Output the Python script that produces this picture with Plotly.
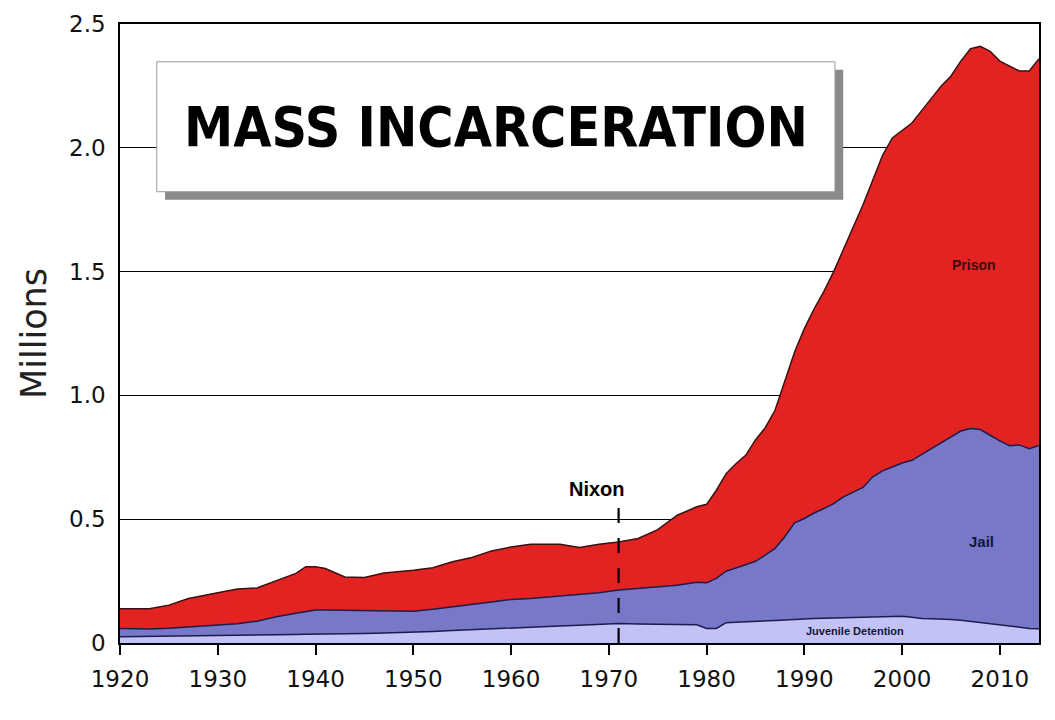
import plotly.graph_objects as go

# Data (millions of people)
years = [1920, 1923, 1925, 1927, 1930, 1932, 1934, 1936, 1938, 1939, 1940, 1941,
         1943, 1945, 1947, 1950, 1952, 1954, 1956, 1958, 1960, 1962, 1965, 1967,
         1969, 1971, 1973, 1975, 1977, 1979, 1980, 1981, 1982, 1983, 1984, 1985,
         1986, 1987, 1988, 1989, 1990, 1991, 1992, 1993, 1994, 1995, 1996, 1997,
         1998, 1999, 2000, 2001, 2002, 2003, 2004, 2005, 2006, 2007, 2008, 2009,
         2010, 2011, 2012, 2013, 2014]

juvenile = [0.025, 0.026, 0.027, 0.028, 0.030, 0.031, 0.032, 0.033, 0.034, 0.035, 0.035, 0.036,
            0.037, 0.038, 0.040, 0.042, 0.046, 0.050, 0.054, 0.057, 0.060, 0.064, 0.069, 0.072,
            0.075, 0.079, 0.077, 0.075, 0.075, 0.074, 0.059, 0.059, 0.082, 0.084, 0.085, 0.087,
            0.089, 0.091, 0.093, 0.096, 0.098, 0.099, 0.100, 0.101, 0.102, 0.103, 0.105, 0.107,
            0.108, 0.109, 0.108, 0.104, 0.099, 0.098, 0.097, 0.095, 0.092, 0.087, 0.082, 0.078,
            0.074, 0.068, 0.063, 0.059, 0.058]

jail = [0.034, 0.031, 0.033, 0.037, 0.043, 0.047, 0.056, 0.073, 0.086, 0.093, 0.098, 0.097,
        0.095, 0.092, 0.089, 0.086, 0.090, 0.095, 0.102, 0.109, 0.116, 0.116, 0.121, 0.124,
        0.128, 0.135, 0.143, 0.152, 0.158, 0.171, 0.184, 0.202, 0.208, 0.219, 0.230, 0.243,
        0.266, 0.291, 0.336, 0.389, 0.405, 0.426, 0.443, 0.462, 0.488, 0.507, 0.523, 0.564,
        0.587, 0.602, 0.619, 0.634, 0.663, 0.687, 0.711, 0.740, 0.764, 0.779, 0.780, 0.761,
        0.742, 0.729, 0.737, 0.726, 0.740]

prison = [0.079, 0.081, 0.093, 0.115, 0.130, 0.140, 0.134, 0.144, 0.161, 0.180, 0.175, 0.168,
          0.135, 0.135, 0.154, 0.166, 0.168, 0.183, 0.189, 0.206, 0.212, 0.219, 0.209, 0.190,
          0.196, 0.194, 0.202, 0.231, 0.283, 0.305, 0.317, 0.356, 0.394, 0.421, 0.443, 0.490,
          0.515, 0.558, 0.631, 0.690, 0.767, 0.825, 0.877, 0.937, 1.000, 1.070, 1.142, 1.199,
          1.275, 1.329, 1.343, 1.362, 1.388, 1.415, 1.442, 1.455, 1.494, 1.534, 1.548, 1.551,
          1.534, 1.533, 1.510, 1.525, 1.562]

y_ticks = [0, 0.5, 1.0, 1.5, 2.0, 2.5]
y_tick_labels = ["0", "0.5", "1.0", "1.5", "2.0", "2.5"]
x_ticks = [1920, 1930, 1940, 1950, 1960, 1970, 1980, 1990, 2000, 2010]

nixon_year = 1971

fig = go.Figure()

series = [
    ("Juvenile Detention", juvenile, "#C2C2F6", "#1c1c4a"),
    ("Jail", jail, "#7878C9", "#1c1c4a"),
    ("Prison", prison, "#E32322", "#3a1010"),
]
for name, vals, fill, edge in series:
    fig.add_trace(go.Scatter(
        x=years, y=vals, name=name,
        mode="lines", stackgroup="one",
        fillcolor=fill,
        line=dict(color=edge, width=1.5),
        hoverinfo="skip",
    ))

# Nixon marker
fig.add_shape(type="line", x0=nixon_year, x1=nixon_year, y0=0, y1=0.55,
              xref="x", yref="y", line=dict(color="black", width=2.2, dash="longdash"),
              layer="above")
fig.add_annotation(x=nixon_year, y=0.62, xref="x", yref="y", text="<b>Nixon</b>",
                   showarrow=False, xshift=-22,
                   font=dict(family="Liberation Sans", size=20, color="black"))

# Series labels
fig.add_annotation(x=2007.4, y=1.525, text="<b>Prison</b>", showarrow=False,
                   font=dict(family="Liberation Sans", size=14, color="#3a0c0c"))
fig.add_annotation(x=2008.1, y=0.41, text="<b>Jail</b>", showarrow=False,
                   font=dict(family="Liberation Sans", size=15, color="#15153a"))
fig.add_annotation(x=1995.2, y=0.048, text="<b>Juvenile Detention</b>", showarrow=False,
                   font=dict(family="Liberation Sans", size=11, color="#15153a"))

# Title box with drop shadow
fig.add_shape(type="rect", xref="paper", yref="paper",
              x0=0.049, x1=0.787, y0=0.716, y1=0.926,
              fillcolor="#8a8a8a", line=dict(width=0))
fig.add_shape(type="rect", xref="paper", yref="paper",
              x0=0.040, x1=0.778, y0=0.729, y1=0.939,
              fillcolor="white", line=dict(color="#9a9a9a", width=1))
fig.add_annotation(xref="paper", yref="paper", x=0.409, y=0.834,
                   xanchor="center", yanchor="middle",
                   text="<b>MASS INCARCERATION</b>", showarrow=False,
                   font=dict(family="DejaVu Sans Condensed, Roboto Condensed, Roboto",
                             size=55, color="black"))

# the page adds an 8px body margin, so the figure is a bit smaller than the window
fig.update_layout(
    width=1047, height=712,
    margin=dict(l=112, r=16, t=16, b=77),
    plot_bgcolor="white", paper_bgcolor="white",
    showlegend=False,
    font=dict(family="DejaVu Sans", color="black"),
    xaxis=dict(
        range=[1920, 2014], tickvals=x_ticks,
        ticks="outside", ticklen=10, tickwidth=1.5, tickcolor="black",
        ticklabelstandoff=4,
        showgrid=False, zeroline=False, automargin=False,
        showline=True, linecolor="black", linewidth=2, mirror=True,
        tickfont=dict(size=23, color="#111"),
    ),
    yaxis=dict(
        range=[0, 2.5], tickvals=y_ticks, ticktext=y_tick_labels,
        showgrid=True, gridcolor="black", gridwidth=1.4,
        zeroline=False, ticks="", ticklabelstandoff=8, automargin=False,
        showline=True, linecolor="black", linewidth=1.5, mirror=True,
        tickfont=dict(size=23, color="#111"),
        title=dict(text="Millions", font=dict(size=35, color="#222"), standoff=12),
    ),
)

fig.write_html("out.html")
